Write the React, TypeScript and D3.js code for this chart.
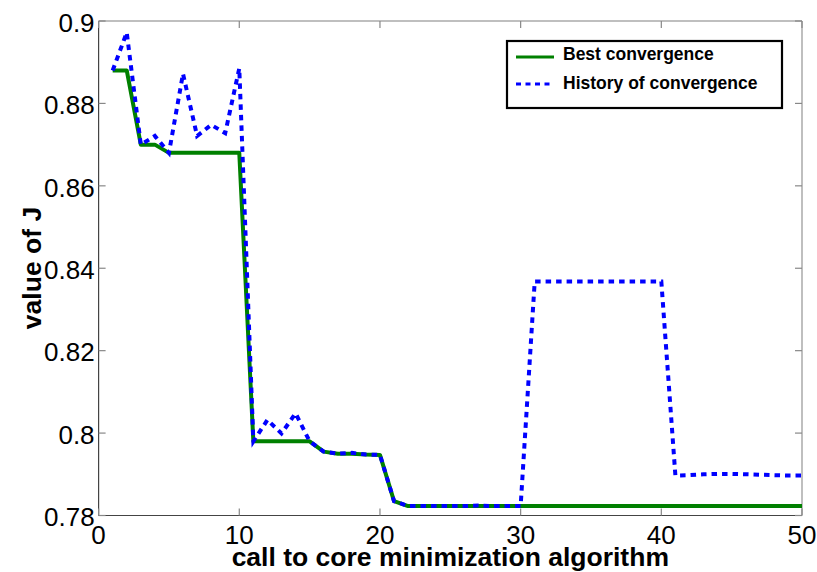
import * as d3 from "d3";

// call index on the x axis
const calls = [
  1, 2, 3, 4, 5, 6, 7, 8, 9, 10, 11, 12, 13, 14, 15, 16, 17, 18, 19, 20, 21,
  22, 23, 24, 25, 26, 27, 28, 29, 30, 31, 32, 33, 34, 35, 36, 37, 38, 39, 40,
  41, 42, 43, 44, 45, 46, 47, 48, 49, 50,
];

const bestJ = [
  0.888, 0.888, 0.87, 0.87, 0.868, 0.868, 0.868, 0.868, 0.868, 0.868,
  0.798, 0.798, 0.798, 0.798, 0.798, 0.7955, 0.795, 0.795, 0.7948, 0.7947,
  0.7835, 0.7823, 0.7823, 0.7823, 0.7823, 0.7823, 0.7823, 0.7823, 0.7823, 0.7823,
  0.7823, 0.7823, 0.7823, 0.7823, 0.7823, 0.7823, 0.7823, 0.7823, 0.7823, 0.7823,
  0.7823, 0.7823, 0.7823, 0.7823, 0.7823, 0.7823, 0.7823, 0.7823, 0.7823, 0.7823,
];

const historyJ = [
  0.888, 0.8972, 0.87, 0.8721, 0.868, 0.8872, 0.8721, 0.8748, 0.8728, 0.8885,
  0.798, 0.8032, 0.7999, 0.8048, 0.798, 0.7955, 0.795, 0.7952, 0.7948, 0.7947,
  0.7835, 0.7823, 0.7823, 0.7823, 0.7823, 0.7823, 0.7824, 0.7823, 0.7823, 0.7823,
  0.8368, 0.8368, 0.8368, 0.8368, 0.8368, 0.8368, 0.8368, 0.8368, 0.8368, 0.8368,
  0.7897, 0.7898, 0.79, 0.7901, 0.7901, 0.79, 0.7899, 0.7898, 0.7897, 0.7897,
];

const xTicks = [0, 10, 20, 30, 40, 50];
const yTicks = [0.78, 0.8, 0.82, 0.84, 0.86, 0.88, 0.9];

const W = 817;
const H = 572;
const left = 98.6;
const right = 802;
const top = 21;
const bottom = 515.5;

const font = "'Liberation Sans', Arial, Helvetica, sans-serif";

export default function App() {
  const x = d3.scaleLinear().domain([0, 50]).range([left, right]);
  const y = d3.scaleLinear().domain([0.78, 0.9]).range([bottom, top]);

  const line = d3
    .line<number>()
    .x((_, i) => x(calls[i]))
    .y((d) => y(d));

  const tickLen = 7;

  return (
    <svg
      width={W}
      height={H}
      style={{ position: "absolute", left: 0, top: 0, background: "#fff" }}
    >
      <rect x={0} y={0} width={W} height={H} fill="#fff" />

      {/* box */}
      <line x1={left} y1={top} x2={right} y2={top} stroke="#aaa" strokeWidth={1.5} />
      <line x1={right} y1={top} x2={right} y2={bottom} stroke="#aaa" strokeWidth={1.5} />
      <line x1={left} y1={top} x2={left} y2={bottom} stroke="#444" strokeWidth={1.2} />
      <line x1={left} y1={bottom} x2={right} y2={bottom} stroke="#444" strokeWidth={1.2} />

      {/* ticks */}
      {xTicks.map((t) => (
        <g key={"xt" + t}>
          <line x1={x(t)} x2={x(t)} y1={bottom} y2={bottom - tickLen} stroke="#888" strokeWidth={1.2} />
          <line x1={x(t)} x2={x(t)} y1={top} y2={top + tickLen} stroke="#888" strokeWidth={1.2} />
          <text
            x={x(t)}
            y={bottom + 28}
            textAnchor="middle"
            fontFamily={font}
            fontSize={26}
            fill="#000"
          >
            {t}
          </text>
        </g>
      ))}
      {yTicks.map((t) => (
        <g key={"yt" + t}>
          <line x1={left} x2={left + tickLen} y1={y(t)} y2={y(t)} stroke="#888" strokeWidth={1.2} />
          <line x1={right} x2={right - tickLen} y1={y(t)} y2={y(t)} stroke="#888" strokeWidth={1.2} />
          <text
            x={left - 4}
            y={y(t) + 10.8}
            textAnchor="end"
            fontFamily={font}
            fontSize={26}
            fill="#000"
          >
            {d3.format("~g")(t)}
          </text>
        </g>
      ))}

      {/* series */}
      <path d={line(bestJ) ?? ""} fill="none" stroke="#008000" strokeWidth={4} strokeLinejoin="round" />
      <path
        d={line(historyJ) ?? ""}
        fill="none"
        stroke="#0000ff"
        strokeWidth={4}
        strokeDasharray="5.5 5"
      />

      {/* axis labels */}
      <text
        x={(left + right) / 2}
        y={566}
        textAnchor="middle"
        fontFamily={font}
        fontSize={26.5}
        fontWeight="bold"
        fill="#000"
      >
        call to core minimization algorithm
      </text>
      <text
        transform={`translate(41,268) rotate(-90)`}
        textAnchor="middle"
        fontFamily={font}
        fontSize={26.5}
        fontWeight="bold"
        fill="#000"
      >
        value of J
      </text>

      {/* legend */}
      <rect x={507} y={41} width={275} height={67} fill="#fff" stroke="#000" strokeWidth={2.2} />
      <line x1={516} x2={554} y1={57} y2={57} stroke="#008000" strokeWidth={3} />
      <text x={563} y={60} fontFamily={font} fontSize={17.5} fontWeight="bold" fill="#000">
        Best convergence
      </text>
      <line x1={516} x2={554} y1={84} y2={84} stroke="#0000ff" strokeWidth={3} strokeDasharray="5 4.5" />
      <text x={563} y={89} fontFamily={font} fontSize={17.5} fontWeight="bold" fill="#000">
        History of convergence
      </text>
    </svg>
  );
}
